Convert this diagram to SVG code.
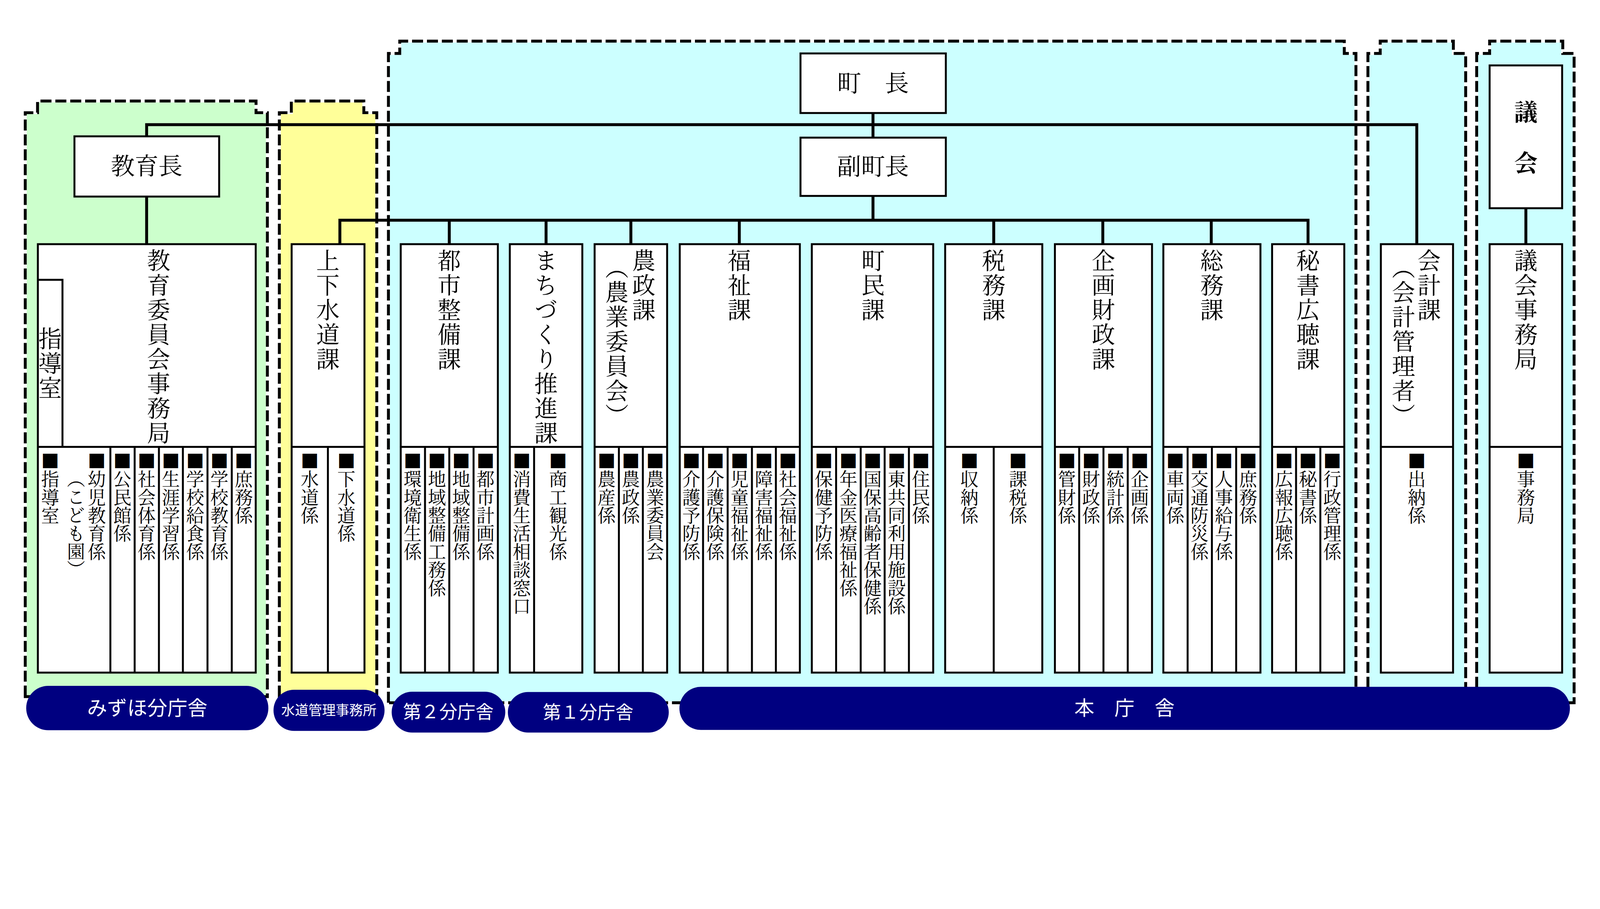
<svg xmlns="http://www.w3.org/2000/svg" width="4943" height="2326" viewBox="0 0 4943 2326" preserveAspectRatio="xMidYMin meet" style="max-width:100vw;max-height:100vh">
<style>
.reg{stroke:none}
.dashw{fill:none;stroke:#fff;stroke-width:9}
.dash{fill:none;stroke:#000;stroke-width:9;stroke-dasharray:34 12}
.box{fill:#fff;stroke:#000;stroke-width:6}
.ln{fill:none;stroke:#000;stroke-width:6}
.con{fill:none;stroke:#000;stroke-width:9}
text{font-family:"Noto Serif CJK JP","Noto Sans CJK JP",sans-serif;fill:#000}
.v{writing-mode:vertical-rl}
.h{font-size:72px;letter-spacing:4px}
.s{font-size:56px}
.pill{fill:#000080}
.pt{fill:#fff;font-family:"Noto Sans CJK JP",sans-serif;text-anchor:middle}
</style>
<g id="regions">
<path class="reg" fill="#CCFFCC" d="M78,2151V348H116V312H791V348H826V2151Z"/>
<path class="reg" fill="#FFFF99" d="M863,2151V348H900V312H1124V348H1164V2151Z"/>
<path class="reg" fill="#CCFFFF" d="M1200,2170V165H1235V127H4153V165H4189V2170Z"/>
<path class="reg" fill="#CCFFFF" d="M4226,2170V165H4264V127H4490V165H4528V2170Z"/>
<path class="reg" fill="#CCFFFF" d="M4562,2170V165H4602V127H4828V165H4863V2170Z"/>
<g>
<path class="dashw" d="M78,2151V348H116V312H791V348H826V2151Z"/>
<path class="dash" d="M78,2151V348H116V312H791V348H826V2151Z"/>
<path class="dashw" d="M863,2151V348H900V312H1124V348H1164V2151Z"/>
<path class="dash" d="M863,2151V348H900V312H1124V348H1164V2151Z"/>
<path class="dashw" d="M1200,2170V165H1235V127H4153V165H4189V2170Z"/>
<path class="dash" d="M1200,2170V165H1235V127H4153V165H4189V2170Z"/>
<path class="dashw" d="M4226,2170V165H4264V127H4490V165H4528V2170Z"/>
<path class="dash" d="M4226,2170V165H4264V127H4490V165H4528V2170Z"/>
<path class="dashw" d="M4562,2170V165H4602V127H4828V165H4863V2170Z"/>
<path class="dash" d="M4562,2170V165H4602V127H4828V165H4863V2170Z"/>
</g>
</g>
<g id="connectors">
<path class="con" d="M2697,349V425M453,421V385H4377V754M453,607V754M2697,605V680M1050,754V680H4041V754M1388,680V754M1687,680V754M1949,680V754M2284,680V754M3070,680V754M3407,680V754M3742,680V754M4714,643V754"/>
</g>
<g id="chief"><rect class="box" x="2473" y="165" width="449" height="184"/><text x="2697" y="283" font-size="74" text-anchor="middle">町　長</text></g>
<g id="vicechief"><rect class="box" x="2473" y="425" width="449" height="180"/><text x="2697" y="541" font-size="74" text-anchor="middle">副町長</text></g>
<g id="edu-chief"><rect class="box" x="230" y="421" width="447" height="186"/><text x="453" y="540" font-size="74" text-anchor="middle">教育長</text></g>
<g id="gikai"><rect class="box" x="4602" y="202" width="224" height="441"/><text x="4714" y="373" font-size="72" font-weight="bold" text-anchor="middle">議</text><text x="4714" y="530" font-size="72" font-weight="bold" text-anchor="middle">会</text></g>

<g id="edu-office">
<rect class="box" x="117" y="754" width="673" height="1323"/>
<path class="ln" d="M117,864H193V1380M117,1380H790M341,1380V2077M416,1380V2077M491,1380V2077M565,1380V2077M641,1380V2077M716,1380V2077"/>
<text class="v h" x="490" y="768">教育委員会事務局</text>
<text class="v h" x="155" y="1010">指導室</text>
<text class="v s" x="155" y="1395">■指導室</text>
<text class="v s" x="299" y="1395">■幼児教育係</text>
<text class="v s" x="235" y="1450">（こども園）</text>
<text class="v s" x="378" y="1395">■公民館係</text>
<text class="v s" x="453" y="1395">■社会体育係</text>
<text class="v s" x="528" y="1395">■生涯学習係</text>
<text class="v s" x="603" y="1395">■学校給食係</text>
<text class="v s" x="678" y="1395">■学校教育係</text>
<text class="v s" x="753" y="1395">■庶務係</text>
</g>
<g id="jogesuido">
<rect class="box" x="901" y="754" width="225" height="1323"/>
<path class="ln" d="M901,1380H1126M1013,1380V2077"/>
<text class="v h" x="1013" y="768">上下水道課</text>
<text class="v s" x="957" y="1395">■水道係</text>
<text class="v s" x="1070" y="1395">■下水道係</text>
</g>
<g id="toshi">
<rect class="box" x="1238" y="754" width="300" height="1323"/>
<path class="ln" d="M1238,1380H1538M1313,1380V2077M1388,1380V2077M1463,1380V2077"/>
<text class="v h" x="1388" y="768">都市整備課</text>
<text class="v s" x="1275" y="1395">■環境衛生係</text>
<text class="v s" x="1350" y="1395">■地域整備工務係</text>
<text class="v s" x="1425" y="1395">■地域整備係</text>
<text class="v s" x="1500" y="1395">■都市計画係</text>
</g>
<g id="machi">
<rect class="box" x="1575" y="754" width="224" height="1323"/>
<path class="ln" d="M1575,1380H1799M1650,1380V2077"/>
<text class="v h" x="1687" y="768">まちづくり推進課</text>
<text class="v s" x="1612" y="1395">■消費生活相談窓口</text>
<text class="v s" x="1724" y="1395">■商工観光係</text>
</g>
<g id="nosei">
<rect class="box" x="1837" y="754" width="224" height="1323"/>
<path class="ln" d="M1837,1380H2061M1912,1380V2077M1986,1380V2077"/>
<text class="v h" x="1989" y="768">農政課</text>
<text class="v h" x="1906" y="790">（農業委員会）</text>
<text class="v s" x="1874" y="1395">■農産係</text>
<text class="v s" x="1949" y="1395">■農政係</text>
<text class="v s" x="2024" y="1395">■農業委員会</text>
</g>
<g id="fukushi">
<rect class="box" x="2100" y="754" width="371" height="1323"/>
<path class="ln" d="M2100,1380H2471M2172,1380V2077M2248,1380V2077M2323,1380V2077M2397,1380V2077"/>
<text class="v h" x="2284" y="768">福祉課</text>
<text class="v s" x="2136" y="1395">■介護予防係</text>
<text class="v s" x="2210" y="1395">■介護保険係</text>
<text class="v s" x="2285" y="1395">■児童福祉係</text>
<text class="v s" x="2360" y="1395">■障害福祉係</text>
<text class="v s" x="2434" y="1395">■社会福祉係</text>
</g>
<g id="chomin">
<rect class="box" x="2508" y="754" width="375" height="1323"/>
<path class="ln" d="M2508,1380H2883M2583,1380V2077M2659,1380V2077M2733,1380V2077M2808,1380V2077"/>
<text class="v h" x="2697" y="768">町民課</text>
<text class="v s" x="2545" y="1395">■保健予防係</text>
<text class="v s" x="2621" y="1395">■年金医療福祉係</text>
<text class="v s" x="2696" y="1395">■国保高齢者保健係</text>
<text class="v s" x="2770" y="1395">■東共同利用施設係</text>
<text class="v s" x="2845" y="1395">■住民係</text>
</g>
<g id="zeimu">
<rect class="box" x="2920" y="754" width="300" height="1323"/>
<path class="ln" d="M2920,1380H3220M3070,1380V2077"/>
<text class="v h" x="3070" y="768">税務課</text>
<text class="v s" x="2995" y="1395">■収納係</text>
<text class="v s" x="3145" y="1395">■課税係</text>
</g>
<g id="kikaku">
<rect class="box" x="3259" y="754" width="300" height="1323"/>
<path class="ln" d="M3259,1380H3559M3334,1380V2077M3409,1380V2077M3484,1380V2077"/>
<text class="v h" x="3409" y="768">企画財政課</text>
<text class="v s" x="3296" y="1395">■管財係</text>
<text class="v s" x="3371" y="1395">■財政係</text>
<text class="v s" x="3446" y="1395">■統計係</text>
<text class="v s" x="3521" y="1395">■企画係</text>
</g>
<g id="somu">
<rect class="box" x="3594" y="754" width="300" height="1323"/>
<path class="ln" d="M3594,1380H3894M3669,1380V2077M3744,1380V2077M3819,1380V2077"/>
<text class="v h" x="3744" y="768">総務課</text>
<text class="v s" x="3631" y="1395">■車両係</text>
<text class="v s" x="3706" y="1395">■交通防災係</text>
<text class="v s" x="3781" y="1395">■人事給与係</text>
<text class="v s" x="3856" y="1395">■庶務係</text>
</g>
<g id="hisho">
<rect class="box" x="3930" y="754" width="223" height="1323"/>
<path class="ln" d="M3930,1380H4153M4004,1380V2077M4079,1380V2077"/>
<text class="v h" x="4041" y="768">秘書広聴課</text>
<text class="v s" x="3967" y="1395">■広報広聴係</text>
<text class="v s" x="4041" y="1395">■秘書係</text>
<text class="v s" x="4116" y="1395">■行政管理係</text>
</g>
<g id="kaikei">
<rect class="box" x="4266" y="754" width="223" height="1323"/>
<path class="ln" d="M4266,1380H4489"/>
<text class="v h" x="4415" y="768">会計課</text>
<text class="v h" x="4336" y="790">（会計管理者）</text>
<text class="v s" x="4377" y="1395">■出納係</text>
</g>
<g id="gikai-office">
<rect class="box" x="4602" y="754" width="224" height="1323"/>
<path class="ln" d="M4602,1380H4826"/>
<text class="v h" x="4714" y="768">議会事務局</text>
<text class="v s" x="4714" y="1395">■事務局</text>
</g>
<g id="buildings">
<rect class="pill" x="81" y="2118" width="748" height="137" rx="68"/>
<text class="pt" x="455" y="2208" font-size="62">みずほ分庁舎</text>
<rect class="pill" x="845" y="2130" width="343" height="127" rx="63"/>
<text class="pt" x="1016" y="2209" font-size="42">水道管理事務所</text>
<rect class="pill" x="1210" y="2136" width="351" height="126" rx="63"/>
<text class="pt" x="1385" y="2218" font-size="56">第２分庁舎</text>
<rect class="pill" x="1569" y="2137" width="497" height="125" rx="62"/>
<text class="pt" x="1817" y="2219" font-size="56">第１分庁舎</text>
<rect class="pill" x="2099" y="2121" width="2751" height="133" rx="66"/>
<text class="pt" x="3474" y="2208" font-size="62">本　庁　舎</text>
</g>
</svg>
